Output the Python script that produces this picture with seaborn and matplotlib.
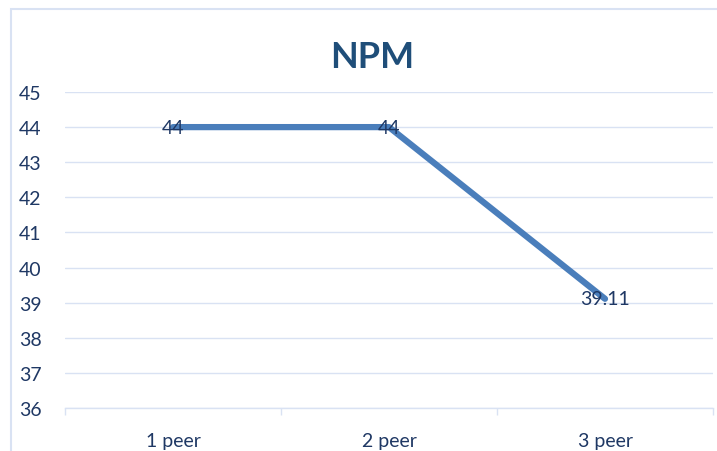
import matplotlib
matplotlib.use("Agg")
import matplotlib.pyplot as plt
import matplotlib.patches as mpatches
import seaborn as sns
import pandas as pd

# chart data
categories = ["1 peer", "2 peer", "3 peer"]
npm_values = [44, 44, 39.11]
value_labels = ["44", "44", "39.11"]
y_ticks = [36, 37, 38, 39, 40, 41, 42, 43, 44, 45]

line_color = "#4A7EBB"
text_color = "#1F3864"
grid_color = "#D9E2F3"

sns.set_theme(style="white")
plt.rcParams["font.family"] = ["Lato", "DejaVu Sans"]

W, H = 717, 452
fig = plt.figure(figsize=(W / 100, H / 100), dpi=100)
ax = fig.add_axes([65 / W, 1 - 409 / H, (713 - 65) / W, (409 - 93) / H])

df = pd.DataFrame({"cat": categories, "val": npm_values})
sns.lineplot(data=df, x="cat", y="val", ax=ax, color=line_color,
             linewidth=4.5, solid_capstyle="round", solid_joinstyle="round")

for i, (v, lab) in enumerate(zip(npm_values, value_labels)):
    ax.text(i, v, lab, ha="center", va="center", fontsize=14, color=text_color)

ax.set_ylim(36, 45)
ax.set_xlim(-0.5, 2.5)
ax.set_yticks(y_ticks)
ax.set_xticks(range(len(categories)))
ax.set_xticklabels(categories)
ax.set_xticks([-0.5, 0.5, 1.5, 2.5], minor=True)
ax.tick_params(axis="x", which="major", length=0, pad=17, labelsize=14, labelcolor=text_color)
ax.tick_params(axis="x", which="minor", length=5, width=1, color=grid_color, bottom=True)
ax.tick_params(axis="y", length=0, pad=17, labelsize=14, labelcolor=text_color)
ax.set_xlabel("")
ax.set_ylabel("")

ax.grid(axis="y", color=grid_color, linewidth=1)
ax.set_axisbelow(True)
for s in ["top", "left", "right"]:
    ax.spines[s].set_visible(False)
ax.spines["bottom"].set_color(grid_color)
ax.spines["bottom"].set_linewidth(1)

fig.text(372 / W, 1 - 58 / H, "NPM", ha="center", va="center",
         fontsize=26, fontweight="bold", color="#1F4E79")

# outer chart border
fig.patches.append(mpatches.Rectangle((11 / W, -0.1), 1, 1.1 - 10 / H,
                                      transform=fig.transFigure, fill=False,
                                      edgecolor=grid_color, linewidth=1.5))

fig.savefig("out.png", dpi=100)
